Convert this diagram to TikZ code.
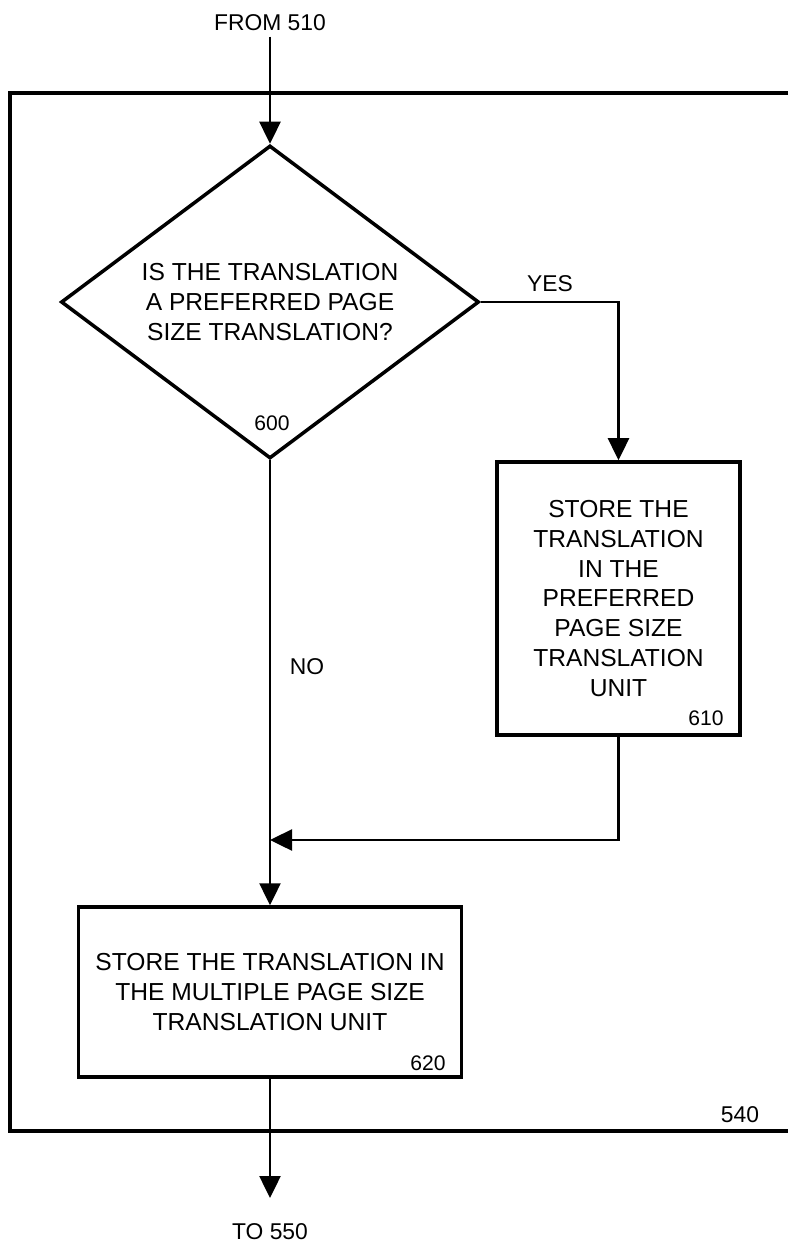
\documentclass[tikz,border=0pt]{standalone}
\usepackage{fontspec}
\setmainfont{Liberation Sans}
\usetikzlibrary{arrows.meta,positioning,shapes.geometric,calc}
\tikzset{
  question/.style={draw, diamond, aspect=1.34, line width=2pt, align=center, inner sep=0pt, minimum width=8.36cm, minimum height=6.26cm},
  stepbox/.style={draw, rectangle, line width=2pt, align=center, inner sep=4pt},
  refnum/.style={font=\fontsize{12}{14}\selectfont, inner sep=0pt},
  tag/.style={font=\fontsize{13}{15}\selectfont, inner sep=3pt},
  frame/.style={line width=2pt},
  arrow/.style={-{Triangle[length=4.4mm, width=4.2mm]}, line width=1.4pt}
}
\begin{document}
\begin{tikzpicture}[x=1cm,y=1cm, font=\fontsize{14}{17}\selectfont]
\useasboundingbox (0,0) rectangle (15.76,-24.94);
\draw[frame] (15.76,-1.86) -- (0.20,-1.86) -- (0.20,-22.62) -- (15.76,-22.62);
\node[tag] (from510) at (5.40,-0.46) {FROM 510};
\node[question] (query) at (5.40,-6.04) {IS THE TRANSLATION\\A PREFERRED PAGE\\SIZE TRANSLATION?};
\node[refnum] (n600) at (5.44,-8.46) {600};
\node[stepbox, minimum width=4.86cm, minimum height=5.46cm] (store610) at (12.37,-11.97) {STORE THE\\TRANSLATION\\IN THE\\PREFERRED\\PAGE SIZE\\TRANSLATION\\UNIT};
\node[refnum] (n610) at (14.12,-14.36) {610};
\node[stepbox, minimum width=7.66cm, minimum height=3.40cm] (store620) at (5.40,-19.84) {STORE THE TRANSLATION IN\\THE MULTIPLE PAGE SIZE\\TRANSLATION UNIT};
\node[refnum] (n620) at (8.56,-21.26) {620};
\node[tag] (yes) at (11.00,-5.68) {YES};
\node[tag] (no) at (6.14,-13.34) {NO};
\node[tag] (n540) at (14.80,-22.30) {540};
\node[tag] (to550) at (5.40,-24.64) {TO 550};
\coordinate (merge) at (5.40,-16.80);
\coordinate (exit) at (5.40,-23.96);

\draw[arrow] (from510) -- (query.north);
\draw[arrow] (query.east) -| (store610.north);
\draw[arrow] (store610.south) |- (merge);
\draw[arrow] (query.south) -- (store620.north);
\draw[arrow] (store620.south) -- (exit);
\end{tikzpicture}
\end{document}
